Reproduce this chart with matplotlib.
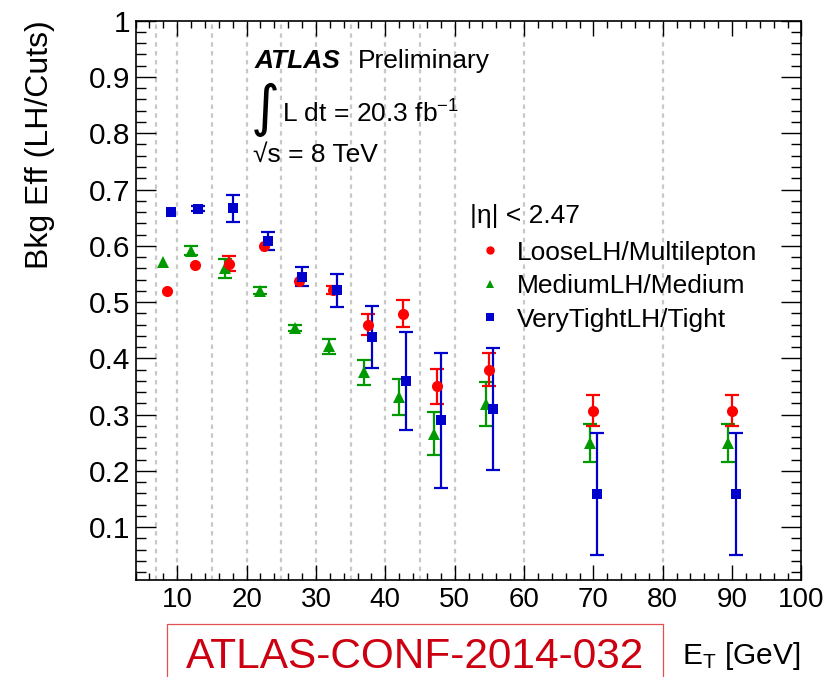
#!/usr/bin/env python3
"""Background efficiency ratio LH/cut-based vs E_T (ATLAS-CONF-2014-032 style)."""

import matplotlib

matplotlib.use("Agg")
from matplotlib import pyplot as plt  # noqa: E402
from matplotlib.lines import Line2D  # noqa: E402
from matplotlib.patches import Rectangle  # noqa: E402
from matplotlib.ticker import FuncFormatter, MultipleLocator  # noqa: E402

plt.rcParams["font.family"] = ["Liberation Sans", "DejaVu Sans"]
plt.rcParams["mathtext.fontset"] = "custom"
plt.rcParams["mathtext.rm"] = "Liberation Sans"
plt.rcParams["mathtext.it"] = "Liberation Sans:italic"
plt.rcParams["mathtext.bf"] = "Liberation Sans:bold"

# E_T bins (GeV)
bin_edges = [7, 10, 15, 20, 25, 30, 35, 40, 45, 50, 60, 80]
bin_centers = [8.5, 12.5, 17.5, 22.5, 27.5, 32.5, 37.5, 42.5, 47.5, 55, 70, 90]

# LooseLH / Multilepton
loose = [0.520, 0.565, 0.568, 0.599, 0.538, 0.522, 0.460, 0.479, 0.350, 0.380, 0.307, 0.307]
loose_err = [0.0, 0.0, 0.013, 0.0, 0.0, 0.007, 0.018, 0.024, 0.031, 0.029, 0.027, 0.027]

# MediumLH / Medium
medium = [0.572, 0.591, 0.560, 0.520, 0.454, 0.421, 0.375, 0.331, 0.266, 0.319, 0.250, 0.250]
medium_err = [0.0, 0.008, 0.017, 0.006, 0.006, 0.014, 0.022, 0.032, 0.038, 0.039, 0.034, 0.034]

# VeryTightLH / Tight
tight = [0.660, 0.666, 0.667, 0.608, 0.545, 0.521, 0.438, 0.359, 0.290, 0.310, 0.159, 0.159]
tight_err = [0.0, 0.005, 0.024, 0.016, 0.017, 0.029, 0.055, 0.087, 0.120, 0.108, 0.109, 0.109]

labels = ["LooseLH/Multilepton", "MediumLH/Medium", "VeryTightLH/Tight"]

RED = "#ff0000"
GREEN = "#009900"
BLUE = "#0000cc"

W, H = 832, 677


def fxy(px, py):
    """pixel position -> figure fraction"""
    return px / W, 1 - py / H


fig = plt.figure(figsize=(W / 100, H / 100), dpi=100)
ax = fig.add_axes([0.163, 0.1433, 0.8003, 0.8261])

for edge in bin_edges:
    ax.axvline(edge, color="#c8c8c8", lw=1.6, ls=(0, (2.0, 2.0)), zorder=0)

shift = 0.55
series = [
    (medium, medium_err, GREEN, "^", -shift, 9),
    (loose, loose_err, RED, "o", 0.0, 8),
    (tight, tight_err, BLUE, "s", shift, 7.5),
]
for vals, errs, color, marker, dx, ms in series:
    xs = [c + dx for c in bin_centers]
    # error bars only where the uncertainty sticks out of the marker
    keep = [i for i, e in enumerate(errs) if e > 0]
    ax.errorbar([xs[i] for i in keep], [vals[i] for i in keep], yerr=[errs[i] for i in keep],
                fmt="none", ecolor=color, elinewidth=1.6, capsize=5, capthick=1.6, zorder=3)
    ax.plot(xs, vals, ls="none", marker=marker, color=color, ms=ms, mew=0, zorder=4)

ax.set_xlim(4, 100)
ax.set_ylim(0.006, 1.0)
ax.xaxis.set_major_locator(MultipleLocator(10))
ax.xaxis.set_minor_locator(MultipleLocator(2))
ax.yaxis.set_major_locator(MultipleLocator(0.1))
ax.yaxis.set_minor_locator(MultipleLocator(0.02))
ax.yaxis.set_major_formatter(FuncFormatter(lambda v, _: "1" if abs(v - 1) < 1e-9 else f"{v:.1f}"))

ax.tick_params(axis="both", which="both", direction="in", top=True, right=True, width=1.0, colors="black")
ax.tick_params(axis="x", which="major", length=10.5, pad=5, labelsize=20)
ax.tick_params(axis="x", which="minor", length=5.2)
ax.tick_params(axis="y", which="major", length=14.5, pad=4, labelsize=21.5)
ax.tick_params(axis="y", which="minor", length=7.2)
for spine in ax.spines.values():
    spine.set_linewidth(1.2)

# legend
handles = [
    Line2D([], [], ls="none", marker="o", color=RED, ms=6, mew=0),
    Line2D([], [], ls="none", marker="^", color=GREEN, ms=6, mew=0),
    Line2D([], [], ls="none", marker="s", color=BLUE, ms=5.5, mew=0),
]
leg = ax.legend(handles, labels, title="|η| < 2.47", loc="upper left",
                bbox_to_anchor=(0.502, 0.672), frameon=False, fontsize=19,
                title_fontsize=19, alignment="left", borderpad=0, borderaxespad=0,
                handlelength=1.5, handletextpad=0.3, labelspacing=0.36)
leg._legend_box.sep = 9

# ATLAS labels
fig.text(*fxy(255, 68), "ATLAS", fontsize=19, fontweight="bold", fontstyle="italic", va="baseline")
fig.text(*fxy(358, 68), "Preliminary", fontsize=19, va="baseline")
fig.text(*fxy(251, 110), "∫", fontsize=40, family="DejaVu Sans", va="center")
fig.text(*fxy(282, 123), r"L dt = 20.3 fb$^{\mathrm{-1}}$", fontsize=19, va="baseline")
fig.text(*fxy(253, 162), "√s = 8 TeV", fontsize=19, va="baseline")

# axis titles
fig.text(*fxy(40, 20), "Bkg Eff (LH/Cuts)", fontsize=23, rotation=90, ha="center", va="top")
fig.text(*fxy(800, 664), r"E$_{\mathrm{T}}$ [GeV]", fontsize=21.5, ha="right", va="baseline")

# conference note tag
fig.patches.append(Rectangle(fxy(167, 690), 496 / W, 66 / H, transform=fig.transFigure,
                             fill=False, edgecolor="#e05050", lw=0.9))
fig.text(*fxy(186, 668), "ATLAS-CONF-2014-032", fontsize=30.5, color="#cc0011", va="baseline")

fig.savefig("out.png", dpi=100)
plt.close(fig)
